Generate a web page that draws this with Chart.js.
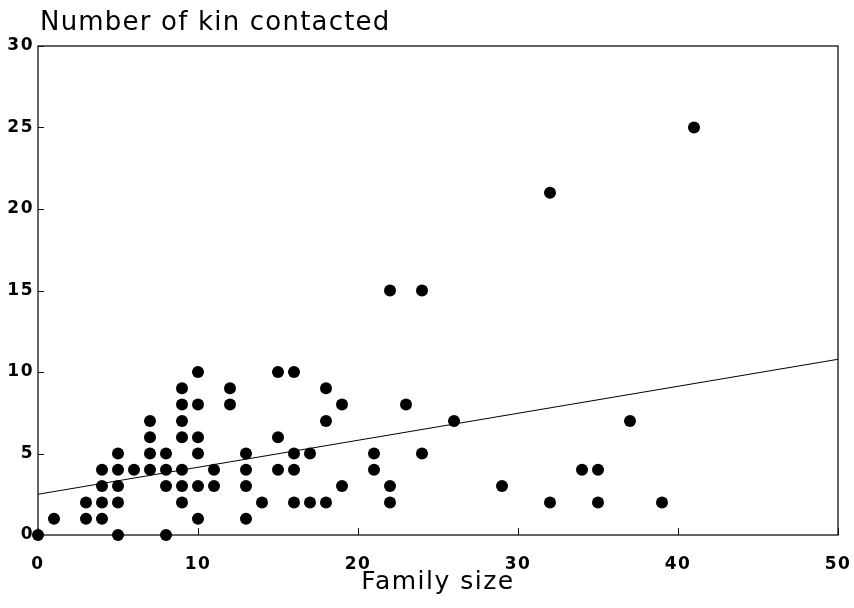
<!DOCTYPE html>
<html>
<head>
<meta charset="utf-8">
<title>Number of kin contacted</title>
<script src="https://cdn.jsdelivr.net/npm/chart.js@4/dist/chart.umd.min.js"></script>
<style>
  html, body { margin: 0; padding: 0; background: #fff; }
  canvas { display: block; }
</style>
</head>
<body>
<canvas id="kinChart" width="854" height="608"></canvas>
<script>
// one entry per respondent
const familySize = [
  0, 1, 3, 3, 4, 4, 4, 4, 5, 5, 5, 5, 5, 6, 7, 7, 7, 7, 8, 8, 8, 8,
  9, 9, 9, 9, 9, 9, 9, 10, 10, 10, 10, 10, 10, 11, 11, 12, 12,
  13, 13, 13, 13, 14, 15, 15, 15, 16, 16, 16, 16, 17, 17, 18, 18, 18,
  19, 19, 21, 21, 22, 22, 22, 23, 24, 24, 26, 29, 32, 32, 34, 35, 35,
  37, 39, 41
];
const kinContacted = [
  0, 1, 1, 2, 1, 2, 3, 4, 0, 2, 3, 4, 5, 4, 4, 5, 6, 7, 0, 3, 4, 5,
  2, 3, 4, 6, 7, 8, 9, 1, 3, 5, 6, 8, 10, 3, 4, 8, 9,
  1, 3, 4, 5, 2, 4, 6, 10, 2, 4, 5, 10, 2, 5, 2, 7, 9,
  3, 8, 4, 5, 2, 3, 15, 8, 5, 15, 7, 3, 2, 21, 4, 2, 4,
  7, 2, 25
];

// fitted regression line, end points
const fitX = [0, 50];
const fitY = [2.5, 10.78];

const xTicks = [0, 10, 20, 30, 40, 50];
const yTicks = [0, 5, 10, 15, 20, 25, 30];

const chartTitle = 'Number of kin contacted';
const FONT = 'DejaVu Sans';

const points = familySize.map((x, i) => ({ x: x, y: kinContacted[i] }));
const fitLine = fitX.map((x, i) => ({ x: x, y: fitY[i] }));

// box round the plot, short inward tick marks, and the title above the y axis
const frameTicks = {
  id: 'frameTicks',
  beforeDraw(chart) {
    chart.ctx.letterSpacing = '1.5px';
  },
  beforeDatasetsDraw(chart) {
    const { ctx, chartArea: a, scales } = chart;
    ctx.save();
    ctx.strokeStyle = '#111';
    ctx.lineWidth = 1.3;
    ctx.strokeRect(a.left, a.top, a.right - a.left, a.bottom - a.top);
    ctx.lineWidth = 1;
    ctx.beginPath();
    xTicks.forEach(v => {
      const px = Math.round(scales.x.getPixelForValue(v)) + 0.5;
      ctx.moveTo(px, a.bottom);
      ctx.lineTo(px, a.bottom - 7);
    });
    yTicks.forEach(v => {
      const py = Math.round(scales.y.getPixelForValue(v)) + 0.5;
      ctx.moveTo(a.left, py);
      ctx.lineTo(a.left + 6, py);
    });
    ctx.stroke();

    ctx.letterSpacing = '1.2px';
    ctx.fillStyle = '#000';
    ctx.font = '26px "' + FONT + '"';
    ctx.textAlign = 'left';
    ctx.textBaseline = 'alphabetic';
    ctx.fillText(chartTitle, a.left + 2, 29.5);
    ctx.restore();
  }
};

const ctx = document.getElementById('kinChart').getContext('2d');

new Chart(ctx, {
  type: 'scatter',
  data: {
    datasets: [
      {
        label: 'Respondents',
        data: points,
        backgroundColor: '#000',
        borderWidth: 0,
        pointRadius: 6,
        pointHoverRadius: 6,
        clip: false
      },
      {
        label: 'Fit',
        data: fitLine,
        showLine: true,
        borderColor: '#000',
        borderWidth: 1,
        pointRadius: 0,
        fill: false
      }
    ]
  },
  options: {
    responsive: false,
    devicePixelRatio: 1,
    animation: false,
    layout: { padding: { left: 0, right: 16, top: 46, bottom: 0 } },
    plugins: {
      legend: { display: false },
      tooltip: { enabled: false }
    },
    scales: {
      x: {
        type: 'linear',
        min: 0,
        max: 50,
        afterBuildTicks: scale => { scale.ticks = xTicks.map(v => ({ value: v })); },
        afterFit: scale => {
          scale.height = 73;
          scale.paddingLeft = 0;
          scale.paddingRight = 0;
        },
        grid: { display: false, drawTicks: false },
        border: { display: false },
        ticks: { color: '#000', padding: 19, font: { family: FONT, size: 17, weight: 'bold' } },
        title: {
          display: true,
          text: 'Family size',
          color: '#000',
          font: { family: FONT, size: 25, lineHeight: 1.2 },
          padding: { top: 0, bottom: 11 }
        }
      },
      y: {
        type: 'linear',
        min: 0,
        max: 30,
        afterBuildTicks: scale => { scale.ticks = yTicks.map(v => ({ value: v })); },
        afterFit: scale => { scale.width = 38; },
        grid: { display: false, drawTicks: false },
        border: { display: false },
        ticks: { color: '#000', padding: 4, font: { family: FONT, size: 17, weight: 'bold' } }
      }
    }
  },
  plugins: [frameTicks]
});
</script>
</body>
</html>
